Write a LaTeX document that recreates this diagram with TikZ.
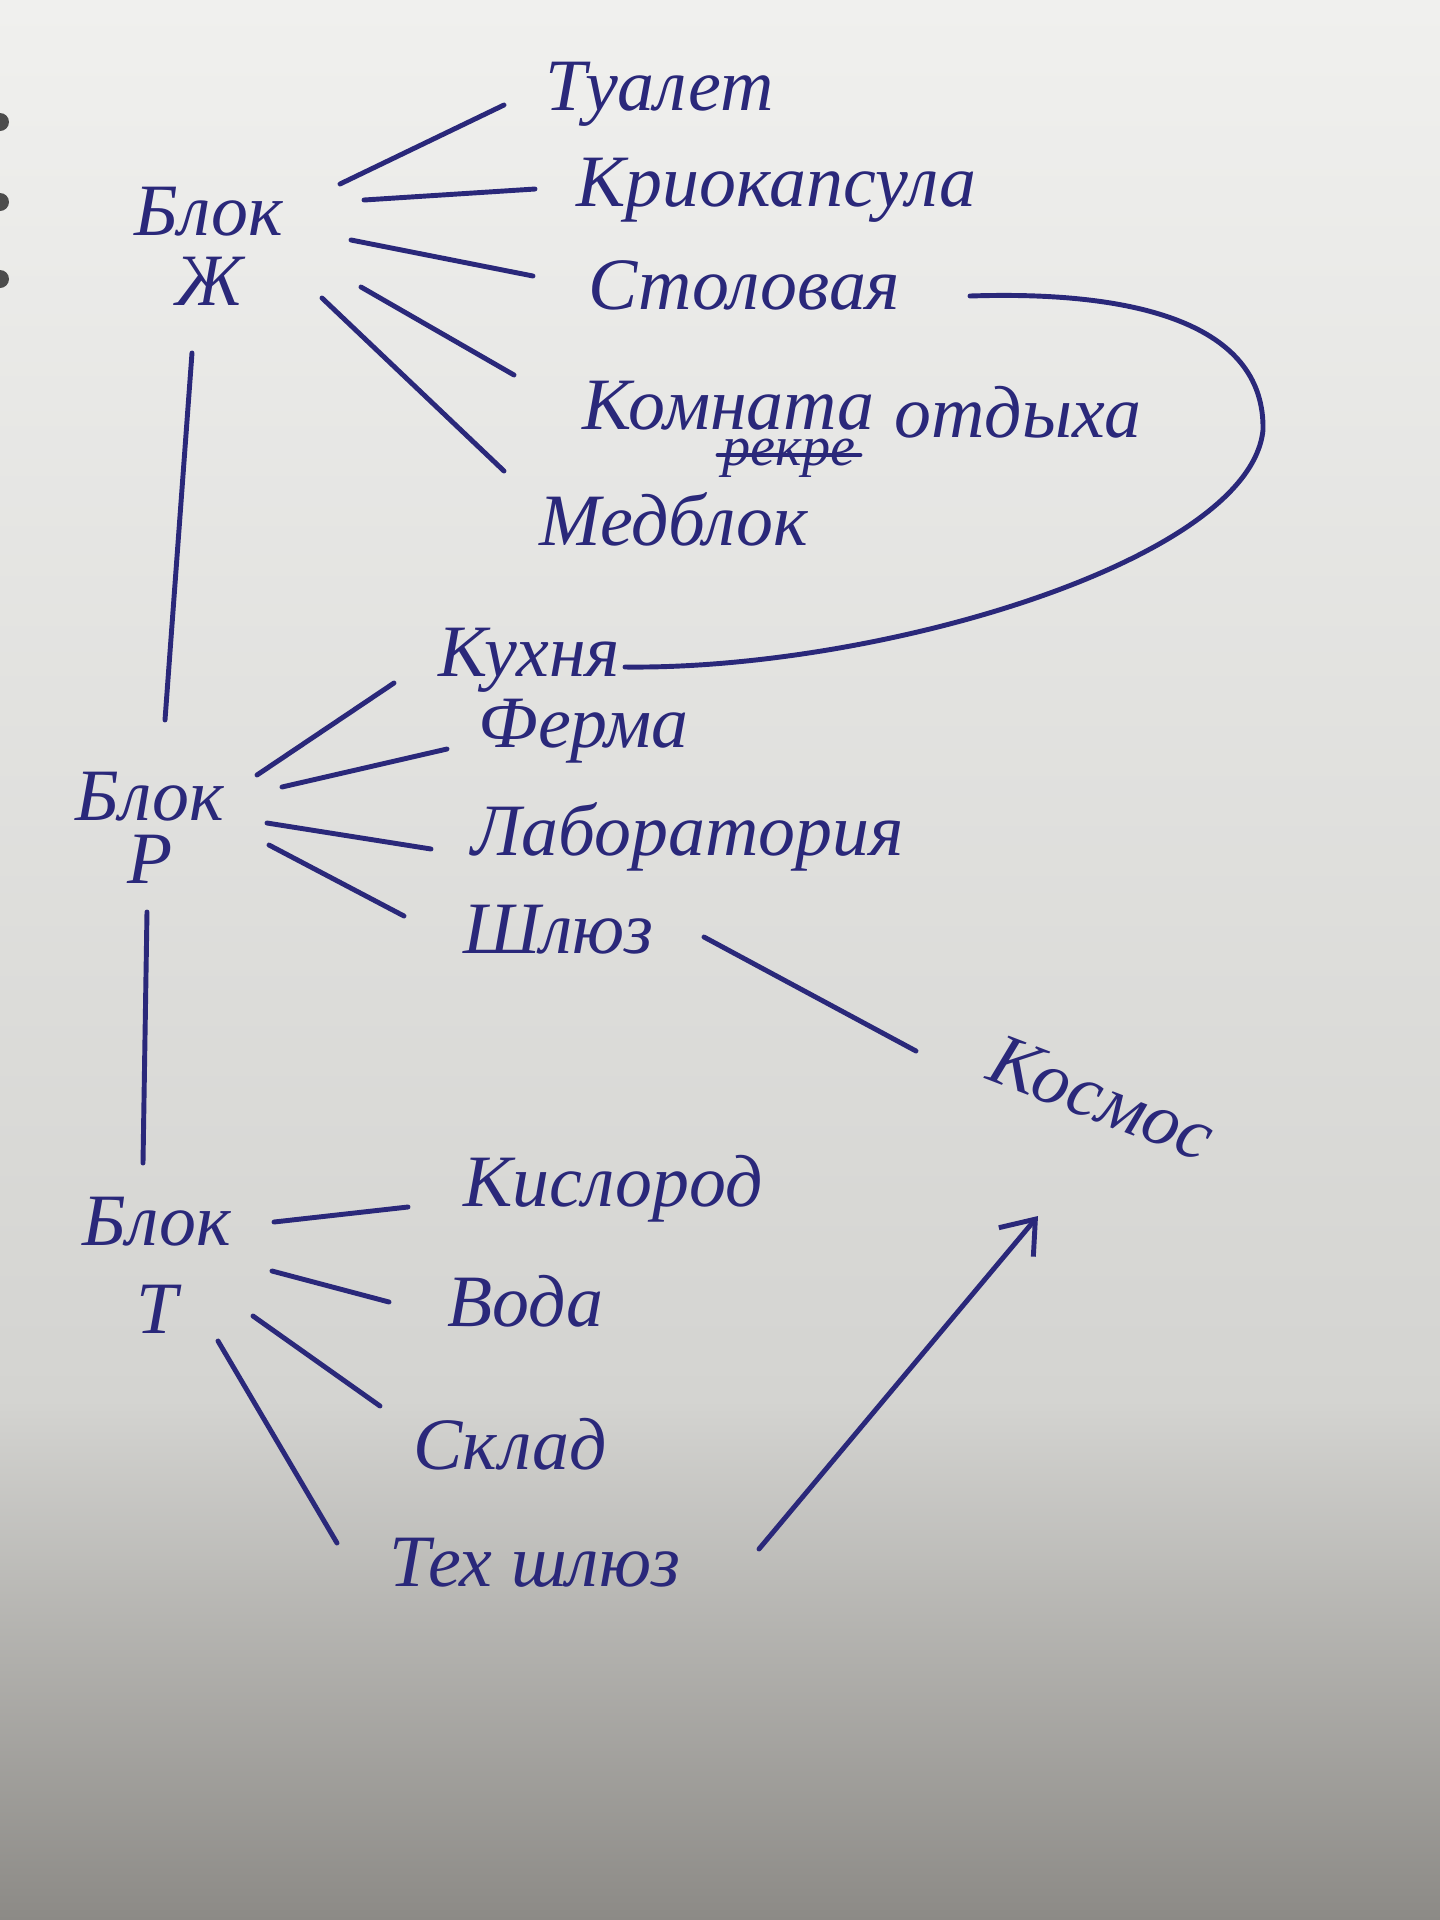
\documentclass[tikz,border=0pt]{standalone}
\usepackage{fontspec}
\setmainfont{Liberation Serif}
\usetikzlibrary{arrows.meta,calc}
\definecolor{inkcolor}{RGB}{42,40,122}
\definecolor{papertop}{RGB}{240,240,238}
\definecolor{papermid}{RGB}{212,212,209}
\definecolor{paperbot}{RGB}{140,138,134}
\tikzset{
  room/.style={anchor=base west, inner sep=0pt, text=inkcolor,
    font=\fontsize{21}{25}\selectfont\itshape},
  block/.style={align=center, inner sep=0pt, text=inkcolor,
    font=\fontsize{21}{20}\selectfont\itshape},
  link/.style={draw=inkcolor, line width=1.4pt, line cap=round},
  toarrow/.style={link, -{Straight Barb[length=3mm,width=4.5mm,line width=1.4pt]}},
}

\begin{document}
\begin{tikzpicture}[x=0.01cm, y=-0.01cm]
    \useasboundingbox (0,0) rectangle (1440,1920);
    % paper
    \shade[top color=papertop, bottom color=papermid] (0,0) rectangle (1440,1400);
    \shade[top color=papermid, bottom color=paperbot] (0,1400) rectangle (1440,1920);
    % binder holes
    \foreach \hy in {122,202,279}
      \fill[black!70] (0,\hy) circle (9);

    % blocks
    \node[block] (zh) at (209,246) {Блок\\Ж};
    \node[block] (pr) at (150,828) {Блок\\[-2pt]Р};
    \node[block] (pt) at (157,1265) {Блок\\[5pt]Т};

    % rooms of block Zh
    \node[room] (tual) at (545,110) {Туалет};
    \node[room] (krio) at (576,206) {Криокапсула};
    \node[room] (stol) at (588,309) {Столовая};
    \node[room] (komn) at (582,429) {Комната};
    \node[room, font=\fontsize{16}{20}\selectfont\itshape] (rekr) at (722,465) {рекре};
    \node[room] (otd) at (894,437) {отдыха};
    \node[room] (med) at (539,545) {Медблок};

    % rooms of block R
    \node[room] (kuh) at (438,676) {Кухня};
    \node[room] (ferm) at (478,747) {Ферма};
    \node[room] (lab) at (471,855) {Лаборатория};
    \node[room] (shl) at (463,953) {Шлюз};

    % rooms of block T
    \node[room] (kisl) at (463,1206) {Кислород};
    \node[room] (voda) at (447,1326) {Вода};
    \node[room] (sklad) at (413,1469) {Склад};
    \node[room] (teh) at (389,1586) {Тех шлюз};

    \node[room, anchor=center, rotate=-21] (kosm) at (1102,1098) {Космос};

    % crossed out word
    \draw[link] ($(rekr.base west)+(-4,-10)$) -- ($(rekr.base east)+(4,-10)$);

    % fan of block Zh
    \draw[link] ($(zh)+(131,-62)$) -- ($(tual.base west)+(-41,-5)$);
    \draw[link] ($(zh)+(155,-46)$) -- ($(krio.base west)+(-41,-17)$);
    \draw[link] ($(zh)+(142,-6)$) -- ($(stol.base west)+(-55,-33)$);
    \draw[link] ($(zh)+(152,41)$) -- ($(komn.base west)+(-68,-54)$);
    \draw[link] ($(zh)+(113,52)$) -- ($(med.base west)+(-35,-74)$);

    % fan of block R
    \draw[link] ($(pr)+(107,-53)$) -- ($(kuh.base west)+(-44,7)$);
    \draw[link] ($(pr)+(132,-41)$) -- ($(ferm.base west)+(-31,2)$);
    \draw[link] ($(pr)+(117,-5)$) -- ($(lab.base west)+(-40,-6)$);
    \draw[link] ($(pr)+(119,17)$) -- ($(shl.base west)+(-59,-37)$);

    % fan of block T
    \draw[link] ($(pt)+(117,-43)$) -- ($(kisl.base west)+(-55,1)$);
    \draw[link] ($(pt)+(115,6)$) -- ($(voda.base west)+(-58,-24)$);
    \draw[link] ($(pt)+(96,51)$) -- ($(sklad.base west)+(-33,-63)$);
    \draw[link] ($(pt)+(61,76)$) -- ($(teh.base west)+(-52,-43)$);

    % blocks chain
    \draw[link] ($(zh)+(-17,107)$) -- ($(pr)+(15,-108)$);
    \draw[link] ($(pr)+(-3,84)$) -- ($(pt)+(-14,-102)$);

    % dining room to kitchen
    \draw[link] ($(stol.base west)+(382,-13)$)
      .. controls (1150,290) and (1265,330) .. (1263,430)
      .. controls (1250,560) and (880,670) .. ($(kuh.base west)+(187,-9)$);

    % to space
    \draw[link] ($(shl.base west)+(241,-16)$) -- ($(kosm)+(-186,-47)$);
    \draw[toarrow] ($(teh.base west)+(370,-37)$) -- ($(kosm)+(-64,118)$);
\end{tikzpicture}
\end{document}
